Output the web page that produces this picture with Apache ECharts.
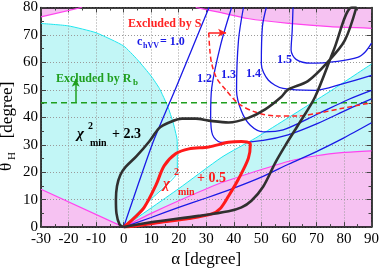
<!DOCTYPE html>
<html><head><meta charset="utf-8">
<script src="https://cdn.jsdelivr.net/npm/echarts@6/dist/echarts.min.js"></script>
<style>html,body{margin:0;padding:0;background:#fff}#c{width:382px;height:273px}</style>
</head><body><div id="c"></div>
<script>
// ---- axis ranges / ticks ----
const xRange = [-30, 90];
const yRange = [0, 80];
// ---- Rb excluded (cyan) boundaries ----
const cyanLeftBoundary = [[-30,74.2],[-20,73.3],[-10,70.8],[0,66],[5,61],[10,55],[13,50.5],[16,44],[18,38],[19.4,32],[19.5,28],[19.5,20],[10,10.2],[0,0]];
const cyanRightBoundary = [[0,0],[20,14],[35.7,25.5],[48,32.5],[60,40],[75,49.5],[90,59.4]];
// ---- magenta excluded regions ----
const magentaLowerRight = [[0,0],[10,5],[20,9.6],[34.5,15.8],[48.9,20.6],[60,24],[70,26],[80,27.2],[90,27.8]];
const magentaLowerLeft = [[-30,13.8],[0,0]];
const magentaTopLeft = [[-30,76.6],[-15.2,80]];
const magentaTopRight = [[26.2,80],[35,78.2],[45,76],[60,74.2],[75,73],[90,72.4]];
// ---- c_hVV contours ----
const chvv10Steep = [[0,0],[10.4,30.2],[19,50.8],[31,80]];
const chvv10Low = [[0,0],[10,3.5],[20,7.2],[30,10.6],[40,14.2],[50,18.2],[60,23],[70,27.5],[80,32.5],[90,38]];
const chvv12 = [[39.2,80],[35.2,66.3],[32.0,50.8],[31.6,40.5],[32.3,33.6],[35.2,30.9],[41.7,30.9],[50.7,31.6],[59.7,33.6],[70.5,37.8],[81.4,42.9],[90,46.7]];
const chvv13 = [[43.5,80],[41.7,68.0],[41.0,49.8],[42.8,42.2],[46.0,37.1],[50.7,34.7],[57.9,35.4],[70.5,41.2],[81.4,46.4],[90,49.8]];
const chvv14 = [[51.8,80],[50.4,73.1],[50.0,59.4],[52.5,53.6],[57.9,50.5],[69.5,49.8],[79.5,52.2],[90,55.3]];
const chvv15 = [[61.5,80],[61.2,71.4],[60.8,64.5],[62.6,61.1],[68.0,59.7],[77.7,60.4],[84.95,61.8],[87.8,63.9],[90,67.0]];
// ---- S exclusion (red dashed) ----
const sBoundary = [[30.9,70.8],[31.3,64.5],[32.0,59.4],[33.8,54.2],[37.0,50.1],[41.7,45.0],[47.8,41.9],[55.0,40.5],[63.3,40.5],[70.5,41.5],[79.5,43.3],[90,45.3]];
const sArrow = [[30.9,70.8],[37.2,70.8]];
// ---- Rb line (green dashed) ----
const rbLevel = 45.3;
const rbArrow = [[-17.4,45.3],[-17.4,54]];
// ---- chi2 contours ----
const chi2p5 = [[0,0],[3.5,3],[7.48,7.2],[11.8,15.45],[14.7,22.3],[19.0,26.8],[23.7,28.5],[30.9,29.2],[38.1,30.9],[42.8,31.2],[46.0,30.2],[45.3,25.1],[41.7,17.5],[38.1,11.3],[35.2,6.9],[32.0,4.8],[23.7,3.1],[12.9,1.7],[3.2,0.3],[0,0]];
const chi2p3 = [[0,0],[-1.5,1],[-2.6,5],[-2.8,10],[-2.4,15],[-1.2,19],[0.8,22],[4.6,25.75],[9.3,31.2],[12.9,36.05],[16.5,38.1],[21.2,39.5],[26.2,39.5],[30.9,38.8],[38.1,38.1],[45.3,39.8],[51.4,42.9],[57.2,47.4],[59.7,50.1],[66.9,53.2],[74.1,60.1],[80.3,68.0],[84.5,80],
  [82.8,80],[76.3,64.5],[69.5,47.4],[63.3,37.1],[59.0,30.2],[55.0,23.3],[50.7,14.8],[46.4,9.6],[42.8,7.2],[38.1,5.8],[27.3,4.1],[9.3,1.7],[0,0]];

const CYAN_FILL = '#c2f6f6', MAG_FILL = '#f6c2f2';
const FONT = 'Liberation Serif';

function poly(data, color, z) {
  return { type: 'custom', data: data, z: z, silent: true, clip: true,
    encode: { x: 0, y: 1 },
    renderItem: function (params, api) {
      if (params.dataIndex !== 0) return null;
      return { type: 'polygon', shape: { points: data.map(p => api.coord(p)) },
               style: { fill: color, stroke: null } };
    } };
}
function line(data, color, width, type, z, smooth) {
  return { type: 'line', data: data, z: z || 4, silent: true, showSymbol: false, symbol: 'none',
    smooth: smooth === undefined ? 0.3 : smooth, clip: true,
    lineStyle: { color: color, width: width, type: type || 'solid' } };
}

const chart = echarts.init(document.getElementById('c'));
const axBase = {
  type: 'value', z: 2,
  axisLine: { show: true, onZero: false, lineStyle: { color: '#000', width: 1.5 } },
  axisTick: { show: true, inside: true, length: 5, lineStyle: { color: '#444' } },
  minorTick: { show: true, splitNumber: 2, length: 3, lineStyle: { color: '#444' } },
};
const option = {
  animation: false,
  grid: { left: 41, right: 8, top: 5, bottom: 35 },
  xAxis: [
    Object.assign({}, axBase, { min: xRange[0], max: xRange[1], interval: 10, position: 'bottom',
      axisLabel: { fontFamily: FONT, fontSize: 15, color: '#000', margin: 4 },
      splitLine: { show: true, lineStyle: { color: '#9a9a9a', type: [1, 2], width: 1 } },
      name: 'α [degree]', nameLocation: 'middle', nameGap: 22,
      nameTextStyle: { fontFamily: FONT, fontSize: 17, color: '#000' } }),
    Object.assign({}, axBase, { min: xRange[0], max: xRange[1], interval: 10, position: 'top',
      axisLabel: { show: false }, splitLine: { show: false } })
  ],
  yAxis: [
    Object.assign({}, axBase, { min: yRange[0], max: yRange[1], interval: 10, position: 'left',
      axisLabel: { fontFamily: FONT, fontSize: 15, color: '#000', margin: 3 },
      splitLine: { show: true, lineStyle: { color: '#9a9a9a', type: [1, 2], width: 1 } } }),
    Object.assign({}, axBase, { min: yRange[0], max: yRange[1], interval: 10, position: 'right',
      axisLabel: { show: false }, splitLine: { show: false } })
  ],
  series: [
    poly(cyanLeftBoundary.concat([[-30,13.8]]), CYAN_FILL, 1),
    poly(cyanRightBoundary.concat([[90,0]]), CYAN_FILL, 1),
    poly(magentaLowerRight.concat([[90,0]]), MAG_FILL, 1),
    poly(magentaLowerLeft.concat([[-30,0]]), MAG_FILL, 1),
    poly(magentaTopLeft.concat([[-30,80]]), MAG_FILL, 1),
    poly(magentaTopRight.concat([[90,80]]), MAG_FILL, 1),
    line(cyanLeftBoundary, '#1ee6ee', 1, 'solid', 3, 0.15),
    line(cyanRightBoundary, '#1ee6ee', 1, 'solid', 3, 0.2),
    line(magentaLowerRight, '#ff44ee', 1.2, 'solid', 3, 0.2),
    line(magentaLowerLeft, '#ff44ee', 1.2, 'solid', 3, 0),
    line(magentaTopLeft, '#ff44ee', 1.2, 'solid', 3, 0),
    line(magentaTopRight, '#ff44ee', 1.2, 'solid', 3, 0.2),
    line([[xRange[0], rbLevel], [xRange[1], rbLevel]], '#1f9f1f', 1.5, [6, 4], 4, 0),
    line(chvv10Steep, '#1a1ae6', 1.3, 'solid', 4, 0.2),
    line(chvv10Low, '#1a1ae6', 1.3, 'solid', 4, 0.2),
    line(chvv12, '#1a1ae6', 1.3, 'solid', 4, 0.3),
    line(chvv13, '#1a1ae6', 1.3, 'solid', 4, 0.3),
    line(chvv14, '#1a1ae6', 1.3, 'solid', 4, 0.3),
    line(chvv15, '#1a1ae6', 1.3, 'solid', 4, 0.3),
    line(sBoundary, '#ff2222', 1.5, [5, 3], 5, 0.3),
    line(chi2p5, '#ff1a1a', 3, 'solid', 6, 0.3),
    line(chi2p3, '#303030', 2.6, 'solid', 6, 0.3),
    { type: 'line', data: [], silent: true, z: 7,
      markLine: { silent: true, animation: false, symbol: ['none', 'arrow'], symbolSize: [6, 8],
        label: { show: false },
        data: [
          [{ coord: sArrow[0], lineStyle: { color: '#ff2222', width: 1.5, type: 'solid' } }, { coord: sArrow[1] }],
          [{ coord: rbArrow[0], lineStyle: { color: '#1f9f1f', width: 1.5, type: 'solid' } }, { coord: rbArrow[1] }]
        ] } }
  ],
  graphic: [
    { type: 'text', z: 20, x: 56, y: 79, style: { text: 'Excluded by R', font: 'bold 12px "Liberation Serif"', fill: '#1f9f1f', verticalAlign: 'middle' } },
    { type: 'text', z: 20, x: 133, y: 83, style: { text: 'b', font: 'bold 9px "Liberation Serif"', fill: '#1f9f1f', verticalAlign: 'middle' } },
    { type: 'text', z: 20, x: 128, y: 24, style: { text: 'Excluded by S', font: 'bold 12px "Liberation Serif"', fill: '#ff2222', verticalAlign: 'middle' } },
    { type: 'text', z: 20, x: 137, y: 42, style: { text: 'c', font: 'bold 12px "Liberation Serif"', fill: '#1a1ae6', verticalAlign: 'middle' } },
    { type: 'text', z: 20, x: 143, y: 46, style: { text: 'hVV', font: 'bold 8px "Liberation Serif"', fill: '#1a1ae6', verticalAlign: 'middle' } },
    { type: 'text', z: 20, x: 160, y: 42, style: { text: '= 1.0', font: 'bold 12px "Liberation Serif"', fill: '#1a1ae6', verticalAlign: 'middle' } },
    { type: 'text', z: 20, x: 197, y: 79, style: { text: '1.2', font: 'bold 12px "Liberation Serif"', fill: '#1a1ae6', verticalAlign: 'middle' } },
    { type: 'text', z: 20, x: 221, y: 75, style: { text: '1.3', font: 'bold 12px "Liberation Serif"', fill: '#1a1ae6', verticalAlign: 'middle' } },
    { type: 'text', z: 20, x: 246, y: 74, style: { text: '1.4', font: 'bold 12px "Liberation Serif"', fill: '#1a1ae6', verticalAlign: 'middle' } },
    { type: 'text', z: 20, x: 277, y: 60, style: { text: '1.5', font: 'bold 12px "Liberation Serif"', fill: '#1a1ae6', verticalAlign: 'middle' } },
    { type: 'text', z: 20, x: 77, y: 134, style: { text: 'χ', font: 'italic bold 15px "Liberation Serif"', fill: '#000', verticalAlign: 'middle' } },
    { type: 'text', z: 20, x: 88, y: 126, style: { text: '2', font: 'bold 10px "Liberation Serif"', fill: '#000', verticalAlign: 'middle' } },
    { type: 'text', z: 20, x: 90, y: 143, style: { text: 'min', font: 'bold 10px "Liberation Serif"', fill: '#000', verticalAlign: 'middle' } },
    { type: 'text', z: 20, x: 112, y: 134, style: { text: '+ 2.3', font: 'bold 14px "Liberation Serif"', fill: '#000', verticalAlign: 'middle' } },
    { type: 'text', z: 20, x: 163, y: 184, style: { text: 'χ', font: 'italic bold 15px "Liberation Serif"', fill: '#ff1a1a', verticalAlign: 'middle' } },
    { type: 'text', z: 20, x: 174, y: 172, style: { text: '2', font: 'bold 10px "Liberation Serif"', fill: '#ff1a1a', verticalAlign: 'middle' } },
    { type: 'text', z: 20, x: 178, y: 192, style: { text: 'min', font: 'bold 10px "Liberation Serif"', fill: '#ff1a1a', verticalAlign: 'middle' } },
    { type: 'text', z: 20, x: 197, y: 178, style: { text: '+ 0.5', font: 'bold 14px "Liberation Serif"', fill: '#ff1a1a', verticalAlign: 'middle' } },
    { type: 'text', z: 20, x: 8, y: 110, rotation: Math.PI / 2, style: { text: '[degree]', font: '17px "Liberation Serif"', fill: '#000', align: 'center', verticalAlign: 'middle' } },
    { type: 'text', z: 20, x: 12, y: 156, rotation: Math.PI / 2, style: { text: 'H', font: '11px "Liberation Serif"', fill: '#000', align: 'center', verticalAlign: 'middle' } },
    { type: 'text', z: 20, x: 7, y: 167, rotation: Math.PI / 2, style: { text: 'θ', font: '17px "Liberation Serif"', fill: '#000', align: 'center', verticalAlign: 'middle' } }
  ]
};
chart.setOption(option);
</script></body></html>
